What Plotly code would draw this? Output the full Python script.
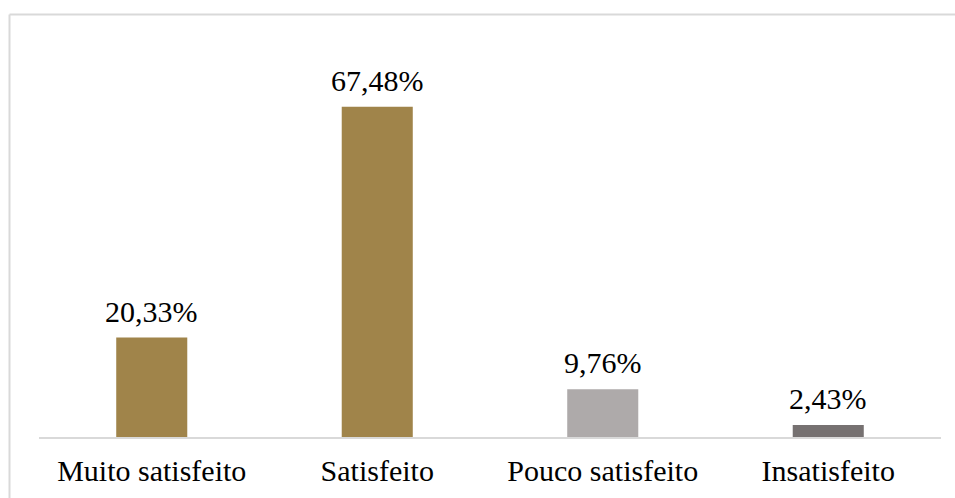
import plotly.graph_objects as go

categories = ["Muito satisfeito", "Satisfeito", "Pouco satisfeito", "Insatisfeito"]
values = [20.33, 67.48, 9.76, 2.43]
labels = ["20,33%", "67,48%", "9,76%", "2,43%"]
colors = ["#A0844A", "#A0844A", "#AEAAAA", "#767171"]

W, H = 955, 498
ml, mr, mt, mb = 39, 14, 69, 61
pw, ph = W - ml - mr, H - mt - mb

def px_x(p):
    return (p - ml) / pw

def px_y(p):
    return (H - mb - p) / ph

font = "Liberation Serif"

fig = go.Figure(go.Bar(
    x=categories,
    y=values,
    marker=dict(color=colors, line=dict(width=0)),
    hoverinfo="skip",
))

# value labels above each bar
for cat, val, lab in zip(categories, values, labels):
    fig.add_annotation(x=cat, y=val, text=lab, showarrow=False,
                       yanchor="bottom", yshift=8,
                       font=dict(family=font, size=30, color="#000000"))

# chart frame: top and left edges
fig.add_shape(type="line", xref="paper", yref="paper",
              x0=px_x(9.5), x1=px_x(960), y0=px_y(14.5), y1=px_y(14.5),
              line=dict(color="#D9D9D9", width=2))
fig.add_shape(type="line", xref="paper", yref="paper",
              x0=px_x(9.5), x1=px_x(9.5), y0=px_y(14.5), y1=px_y(505),
              line=dict(color="#D9D9D9", width=2))

fig.update_layout(
    width=W, height=H,
    margin=dict(l=ml, r=mr, t=mt, b=mb),
    paper_bgcolor="white", plot_bgcolor="white",
    bargap=0.685,
    showlegend=False,
    xaxis=dict(showline=True, linecolor="#D9D9D9", linewidth=2,
               ticks="", ticklabelstandoff=6, automargin=False,
               tickfont=dict(family=font, size=30, color="#000000"),
               showgrid=False),
    yaxis=dict(range=[0, 75.2], visible=False, showgrid=False, zeroline=False),
    font=dict(family=font),
)

fig.write_html("out.html")
